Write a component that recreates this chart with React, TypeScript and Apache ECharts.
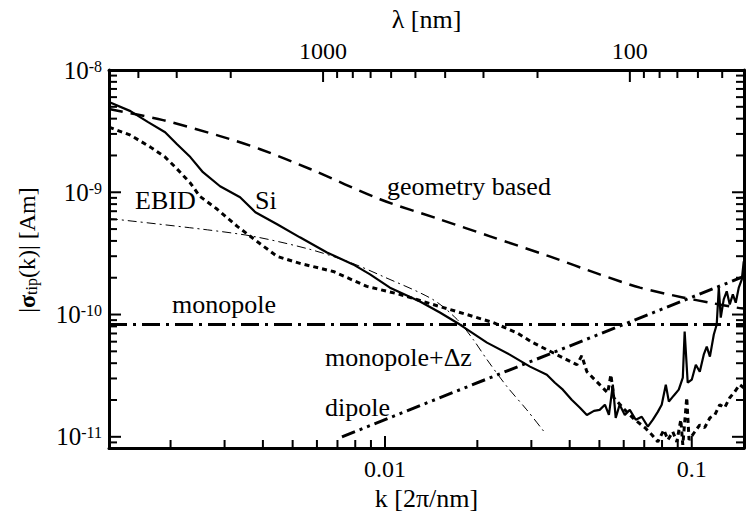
import React, { useEffect, useRef } from 'react';
import * as echarts from 'echarts';

const FONT = "'Liberation Serif', 'Times New Roman', Times, serif";

// axis ranges
const kRange = [0.00126, 0.148];
const yRange = [8.1e-12, 1e-8];

// tick values
const kMajorTicks = [0.01, 0.1];
const kMinorTicks = [0.002, 0.003, 0.004, 0.005, 0.006, 0.007, 0.008, 0.009, 0.02, 0.03, 0.04, 0.05, 0.06, 0.07, 0.08, 0.09];
const lambdaMajorTicks = [1000, 100];
const lambdaMinorTicks = [4000, 3000, 2000, 900, 800, 700, 600, 500, 400, 300, 200, 90, 80, 70, 60, 50];
const yMajorTicks = [1e-11, 1e-10, 1e-9, 1e-8];
const yMantissas = [2, 3, 4, 5, 6, 7, 8, 9];
const yDecades = [1e-12, 1e-11, 1e-10, 1e-9];

// series values [k, |sigma|]
const geometry: [number, number][] = [
  [0.00126, 4.79e-9], [0.00189, 3.89e-9], [0.0029, 2.88e-9], [0.00392, 2.25e-9],
  [0.0057, 1.55e-9], [0.00963, 8.77e-10], [0.0151, 6.0e-10], [0.022, 4.36e-10],
  [0.0344, 2.99e-10], [0.0501, 2.13e-10], [0.0678, 1.66e-10], [0.0935, 1.38e-10],
  [0.1146, 1.25e-10], [0.14, 1.14e-10], [0.148, 1.12e-10],
];

const si: [number, number][] = [
  [0.00126, 5.47e-9], [0.00148, 4.61e-9], [0.00169, 3.75e-9], [0.00192, 3.1e-9],
  [0.0021, 2.47e-9], [0.00232, 1.94e-9], [0.00255, 1.46e-9], [0.0029, 1.12e-9],
  [0.00337, 9.1e-10], [0.00378, 6.86e-10], [0.00445, 5.47e-10], [0.00528, 4.28e-10],
  [0.00647, 3.22e-10], [0.00787, 2.57e-10], [0.00894, 2.13e-10], [0.01038, 1.66e-10],
  [0.013, 1.28e-10], [0.0151, 1.04e-10], [0.01754, 8.28e-11], [0.0215, 5.89e-11],
  [0.0255, 4.7e-11], [0.0297, 3.75e-11], [0.0337, 3.22e-11], [0.0358, 2.77e-11],
  [0.038, 2.43e-11], [0.0406, 2.01e-11], [0.0432, 1.73e-11], [0.0455, 1.51e-11],
  [0.048, 1.63e-11], [0.0501, 1.66e-11], [0.0521, 1.83e-11], [0.0537, 1.51e-11],
  [0.0553, 2.67e-11], [0.0565, 1.43e-11], [0.0582, 1.83e-11], [0.0605, 1.51e-11],
  [0.0628, 1.66e-11], [0.0657, 1.38e-11], [0.0687, 1.46e-11], [0.0719, 1.21e-11],
  [0.0747, 1.38e-11], [0.0775, 1.6e-11], [0.0798, 1.83e-11], [0.0823, 2.67e-11],
  [0.0842, 1.94e-11], [0.0873, 2.17e-11], [0.0907, 2.43e-11], [0.0935, 3.05e-11],
  [0.0948, 7.26e-11], [0.097, 2.77e-11], [0.1, 2.93e-11], [0.1031, 3.89e-11],
  [0.1062, 3.41e-11], [0.1094, 4.7e-11], [0.1119, 5.47e-11], [0.1146, 4.53e-11],
  [0.118, 6.86e-11], [0.1206, 8.28e-11], [0.1225, 1.66e-10], [0.1243, 9.44e-11],
  [0.1271, 1.33e-10], [0.13, 1.55e-10], [0.133, 1.21e-10], [0.1361, 1.46e-10],
  [0.1391, 1.25e-10], [0.1423, 1.66e-10], [0.1456, 1.94e-10], [0.1477, 2.72e-10],
];

const ebid: [number, number][] = [
  [0.00126, 3.41e-9], [0.00148, 2.93e-9], [0.00172, 2.34e-9], [0.00192, 1.94e-9],
  [0.0021, 1.55e-9], [0.00232, 1.19e-9], [0.00249, 9.27e-10], [0.00284, 7.26e-10],
  [0.0033, 5.26e-10], [0.00383, 3.96e-10], [0.00445, 2.99e-10], [0.00528, 2.62e-10],
  [0.00678, 2.25e-10], [0.00873, 1.7e-10], [0.0112, 1.46e-10], [0.0143, 1.21e-10],
  [0.0185, 1.0e-10], [0.0225, 8.6e-11], [0.0269, 7.1e-11], [0.0303, 5.9e-11],
  [0.0363, 4.7e-11], [0.0422, 3.89e-11], [0.0438, 4.61e-11], [0.0455, 3.41e-11],
  [0.0501, 2.67e-11], [0.0532, 2.29e-11], [0.0545, 3.22e-11], [0.0557, 2.09e-11],
  [0.0605, 1.66e-11], [0.0652, 1.38e-11], [0.0703, 1.19e-11], [0.0741, 1.04e-11],
  [0.0775, 9.1e-12], [0.0811, 1.14e-11], [0.0836, 9.44e-12], [0.0867, 1.1e-11],
  [0.0894, 9.1e-12], [0.0921, 1.38e-11], [0.0935, 8.6e-12], [0.0963, 2.09e-11],
  [0.098, 9.44e-12], [0.1023, 1.1e-11], [0.1062, 1.25e-11], [0.1102, 1.19e-11],
  [0.1146, 1.43e-11], [0.1189, 1.51e-11], [0.1234, 1.83e-11], [0.128, 1.73e-11],
  [0.133, 2.09e-11], [0.1381, 2.34e-11], [0.1433, 2.67e-11], [0.1477, 2.52e-11],
];

const monopole: [number, number][] = [[0.00126, 8.3e-11], [0.148, 8.3e-11]];

const monopoleDz: [number, number][] = [
  [0.00126, 6.1e-10], [0.00255, 4.98e-10], [0.00372, 4.36e-10], [0.0057, 3.41e-10],
  [0.00769, 2.67e-10], [0.00985, 2.05e-10], [0.0143, 1.33e-10], [0.0172, 9.1e-11],
  [0.0194, 6.24e-11], [0.0215, 4.28e-11], [0.025, 2.57e-11], [0.029, 1.66e-11],
  [0.0332, 1.08e-11],
];

const dipole: [number, number][] = [[0.00724, 1.0e-11], [0.148, 2.05e-10]];

const labels = [
  { text: 'geometry based', x: 387, y: 186 },
  { text: 'EBID', x: 135, y: 200 },
  { text: 'Si', x: 255, y: 200 },
  { text: 'monopole', x: 172, y: 304 },
  { text: 'monopole+Δz', x: 325, y: 357 },
  { text: 'dipole', x: 325, y: 407 },
];

export default function App() {
  const ref = useRef<HTMLDivElement>(null);
  useEffect(() => {
    const chart = echarts.init(ref.current!, null, { renderer: 'svg' });
    const lamMin = (2 * Math.PI) / kRange[1];
    const lamMax = (2 * Math.PI) / kRange[0];
    const yMinorTicks: number[] = [];
    yDecades.forEach((d) => yMantissas.forEach((m) => {
      const v = m * d;
      if (v > yRange[0] && v < yRange[1]) yMinorTicks.push(v);
    }));

    const tickLine = (x1: number, y1: number, x2: number, y2: number) => ({
      type: 'line', shape: { x1, y1, x2, y2 }, style: { stroke: '#000', lineWidth: 2 },
    });
    const xTickSeries = (vals: number[], len: number, top: boolean) => ({
      type: 'custom', xAxisIndex: top ? 1 : 0, yAxisIndex: 0, silent: true, clip: false, z: 5,
      data: vals.map((v) => [v, top ? yRange[1] : yRange[0]]),
      renderItem: (_p: any, api: any) => {
        const p = api.coord([api.value(0), top ? yRange[1] : yRange[0]]);
        return tickLine(p[0], p[1], p[0], top ? p[1] + len : p[1] - len);
      },
    });
    const yTickSeries = (vals: number[], len: number) => ({
      type: 'custom', xAxisIndex: 0, yAxisIndex: 0, silent: true, clip: false, z: 5,
      data: vals.map((v) => [kRange[0], v]),
      renderItem: (_p: any, api: any) => {
        const v = api.value(1);
        const l = api.coord([kRange[0], v]);
        const r = api.coord([kRange[1], v]);
        return {
          type: 'group',
          children: [tickLine(l[0], l[1], l[0] + len, l[1]), tickLine(r[0], r[1], r[0] - len, r[1])],
        };
      },
    });

    const axisLine = { show: true, onZero: false, lineStyle: { color: '#000', width: 3 } };
    const labelStyle = { color: '#000', fontSize: 24, fontFamily: FONT };
    const nameStyle = { color: '#000', fontSize: 26, fontFamily: FONT };
    const numFmt = (v: number) => String(parseFloat(Number(v).toPrecision(3)));
    const lineSeries = (name: string, data: [number, number][], lineStyle: any, smooth: any = false) => ({
      type: 'line', name, data, symbol: 'none', showSymbol: false, smooth,
      xAxisIndex: 0, yAxisIndex: 0, lineStyle: { color: '#000', ...lineStyle }, z: 3,
    });

    chart.setOption({
      animation: false,
      backgroundColor: '#fff',
      grid: { left: 109, right: 2, top: 70, bottom: 70, containLabel: false },
      xAxis: [
        {
          type: 'log', position: 'bottom', min: kRange[0], max: kRange[1],
          axisLine, axisTick: { show: false }, splitLine: { show: false },
          axisLabel: { ...labelStyle, formatter: numFmt, showMinLabel: false, showMaxLabel: false, margin: 9 },
          name: 'k [2π/nm]', nameLocation: 'middle', nameGap: 36, nameTextStyle: nameStyle,
        },
        {
          type: 'log', position: 'top', inverse: true, min: lamMin, max: lamMax,
          axisLine, axisTick: { show: false }, splitLine: { show: false },
          axisLabel: { ...labelStyle, formatter: numFmt, showMinLabel: false, showMaxLabel: false, margin: 7 },
          name: 'λ [nm]', nameLocation: 'middle', nameGap: 38, nameTextStyle: nameStyle,
        },
      ],
      yAxis: [
        {
          type: 'log', position: 'left', min: yRange[0], max: yRange[1],
          axisLine, axisTick: { show: false }, splitLine: { show: false },
          axisLabel: {
            color: '#000', fontFamily: FONT, margin: 7, showMinLabel: false,
            formatter: (v: number) => `{b|10}{s|${Math.round(Math.log10(v))}}`,
            rich: {
              b: { fontSize: 25, fontFamily: FONT, color: '#000', lineHeight: 24 },
              s: { fontSize: 16, fontFamily: FONT, color: '#000', lineHeight: 8, verticalAlign: 'top' },
            },
          },
        },
        {
          type: 'log', position: 'right', min: yRange[0], max: yRange[1],
          axisLine, axisTick: { show: false }, splitLine: { show: false }, axisLabel: { show: false },
        },
      ],
      series: [
        lineSeries('geometry based', geometry, { width: 2.5, type: [14, 8] }, 0.3),
        lineSeries('Si', si, { width: 2.2, type: 'solid' }),
        lineSeries('EBID', ebid, { width: 3, type: [5, 4] }),
        lineSeries('monopole', monopole, { width: 3, type: [18, 6, 3, 6] }),
        lineSeries('monopole+Δz', monopoleDz, { width: 1, type: [9, 4, 2, 4] }, 0.3),
        lineSeries('dipole', dipole, { width: 3, type: [14, 5, 3, 5, 3, 5] }),
        xTickSeries(kMajorTicks, 12, false),
        xTickSeries(kMinorTicks, 8, false),
        xTickSeries(lambdaMajorTicks, 12, true),
        xTickSeries(lambdaMinorTicks, 8, true),
        yTickSeries(yMajorTicks, 12),
        yTickSeries(yMinorTicks, 8),
      ],
      graphic: [
        ...labels.map((l) => ({
          type: 'text', x: l.x, y: l.y, silent: true, z: 10,
          style: {
            text: l.text, fill: '#000', fontSize: 26, fontFamily: FONT,
            align: 'left', verticalAlign: 'middle', textAlign: 'left', textVerticalAlign: 'middle',
          },
        })),
        {
          type: 'text', x: 27, y: 250, rotation: Math.PI / 2, silent: true, z: 10,
          style: {
            text: '{a||}{g|σ}{s|tip}{a|(k)| [Am]}',
            fill: '#000', fontSize: 24, fontFamily: FONT,
            align: 'center', verticalAlign: 'middle', textAlign: 'center', textVerticalAlign: 'middle',
            rich: {
              a: { fontSize: 24, fontFamily: FONT, fill: '#000', lineHeight: 24 },
              g: { fontSize: 24, fontFamily: FONT, fill: '#000', fontWeight: 'bold', lineHeight: 24 },
              s: { fontSize: 16, fontFamily: FONT, fill: '#000', lineHeight: 8, verticalAlign: 'bottom' },
            },
          },
        },
      ],
    });
    return () => chart.dispose();
  }, []);
  return (
    <div
      ref={ref}
      style={{ position: 'absolute', left: 0, top: 0, width: 746, height: 518, background: '#fff' }}
    />
  );
}
